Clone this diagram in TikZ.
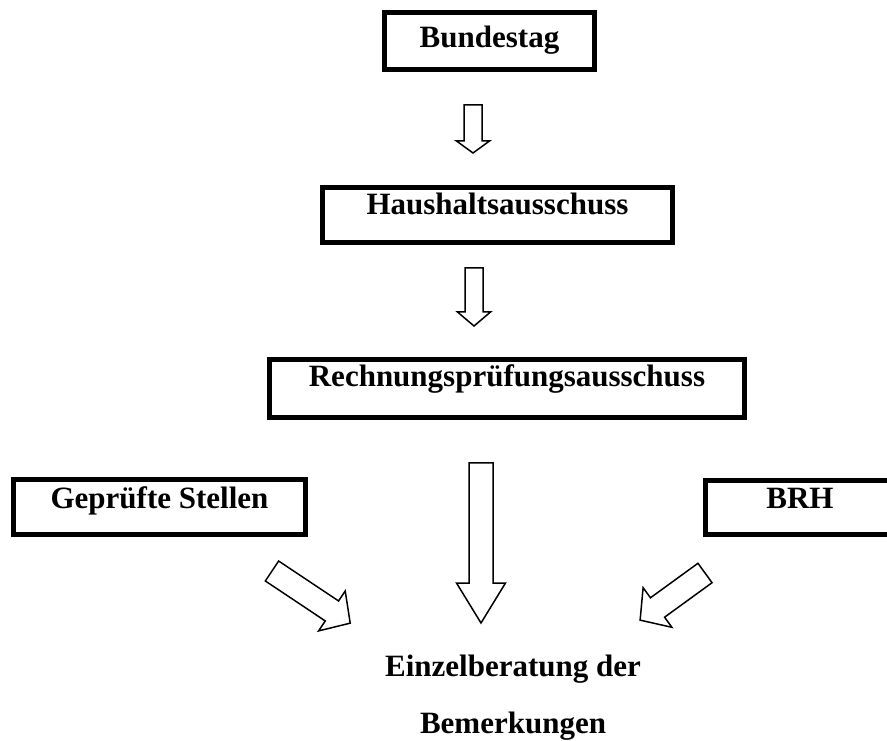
\documentclass[tikz,border=0pt]{standalone}
\usepackage{fontspec}
\setmainfont{Liberation Serif}
\begin{document}
\begin{tikzpicture}[x=1pt,y=1pt,
  box/.style={draw=black,line width=4.6pt,inner sep=0pt,anchor=base,
    font=\fontsize{31}{37}\selectfont\bfseries},
  lbl/.style={inner sep=0pt,anchor=base,font=\fontsize{31}{37}\selectfont\bfseries},
  arrowline/.style={draw=black,line width=1.5pt,fill=white,line join=miter},
  pics/barrow/.style args={#1/#2/#3/#4}{code={
    \draw[arrowline] (0,-#3/2) -- (#1,-#3/2) -- (#1,-#4/2) -- (#1+#2,0)
      -- (#1,#4/2) -- (#1,#3/2) -- (0,#3/2) -- cycle;
  }}
]
\useasboundingbox (0,0) rectangle (887,740);
% boxes
\node[box,minimum width=210pt,text height=35.5pt,text depth=21.5pt] (bt) at (489.5,692) {Bundestag};
\node[box,minimum width=350pt,text height=27.5pt,text depth=27.5pt] (ha) at (497.5,525) {Haushaltsausschuss};
\node[box,minimum width=475pt,text height=27.5pt,text depth=30.5pt] (rp) at (507,353) {Rechnungsprüfungsausschuss};
\node[box,minimum width=292pt,text height=29.5pt,text depth=25.5pt] (gs) at (159.5,231) {Geprüfte Stellen};
\node[box,minimum width=189pt,text height=28.5pt,text depth=25.5pt] (brh) at (800,231) {BRH};
% result text
\node[lbl] (eb1) at (513,63.5) {Einzelberatung der};
\node[lbl] (eb2) at (513,7) {Bemerkungen};
% arrow tails
\coordinate (a1) at (473,635);
\coordinate (a2) at (474,472);
\coordinate (a3) at (481,277);
\coordinate (a4) at (272,169);
\coordinate (a5) at (705,167);
\pic[rotate=-90] at (a1) {barrow={36/12/18/33}};
\pic[rotate=-90] at (a2) {barrow={44/14/18/33}};
\pic[rotate=-90] at (a3) {barrow={120/40/24/49}};
\pic[rotate=-33.7] at (a4) {barrow={72/22/24/48}};
\pic[rotate=216] at (a5) {barrow={58.7/21.5/24/49}};
\end{tikzpicture}
\end{document}
